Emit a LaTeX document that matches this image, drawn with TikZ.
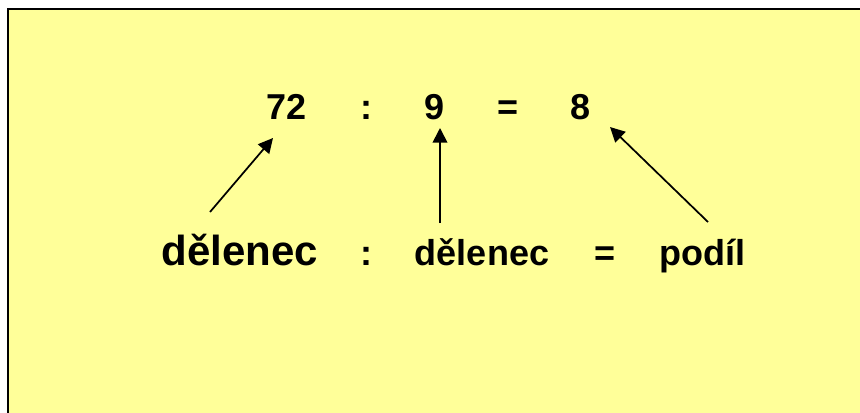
\documentclass[tikz,border=0pt]{standalone}
\usepackage{fontspec}
\setmainfont{Liberation Sans}
\usetikzlibrary{arrows.meta}
\definecolor{slideyellow}{RGB}{255,255,153}

\begin{document}
\begin{tikzpicture}[
  x=0.75pt, y=-0.75pt,
  term/.style={anchor=base, inner sep=0pt,
    font=\fontsize{27}{32}\selectfont\bfseries},
  bigterm/.style={term,
    font=\fontsize{31.5}{38}\selectfont\bfseries},
  arrow/.style={-{Triangle[length=11pt,width=11pt]}, line width=1.3pt}
]
\useasboundingbox (0,0) rectangle (860,412);
\clip (0,0) rectangle (860,412);
% Background panel
\draw[line width=1.5pt, fill=slideyellow] (8,9) rectangle (880,430);

% Top row: the division
\node[term] (dividend) at (287,119) {72};
\node[term] (divsign) at (366,119) {:};
\node[term] (divisor) at (435,119) {9};
\node[term] (eqsign) at (508,119) {=};
\node[term] (quotient) at (581,119) {8};

% Bottom row: the names
\node[bigterm] (dividend-name) at (240,265) {dělenec};
\node[term] (divsign-name) at (366,265) {:};
\node[term] (divisor-name) at (482,265) {dělenec};
\node[term] (eqsign-name) at (605,265) {=};
\node[term] (quotient-name) at (702,265) {podíl};

% Arrow ends
\coordinate (dividend-tail) at (210,212);
\coordinate (dividend-tip) at (273,138);
\coordinate (divisor-tail) at (440,223);
\coordinate (divisor-tip) at (440,128);
\coordinate (quotient-tail) at (708,222);
\coordinate (quotient-tip) at (610,127);

\draw[arrow] (dividend-tail) -- (dividend-tip);
\draw[arrow] (divisor-tail) -- (divisor-tip);
\draw[arrow] (quotient-tail) -- (quotient-tip);
\end{tikzpicture}
\end{document}
